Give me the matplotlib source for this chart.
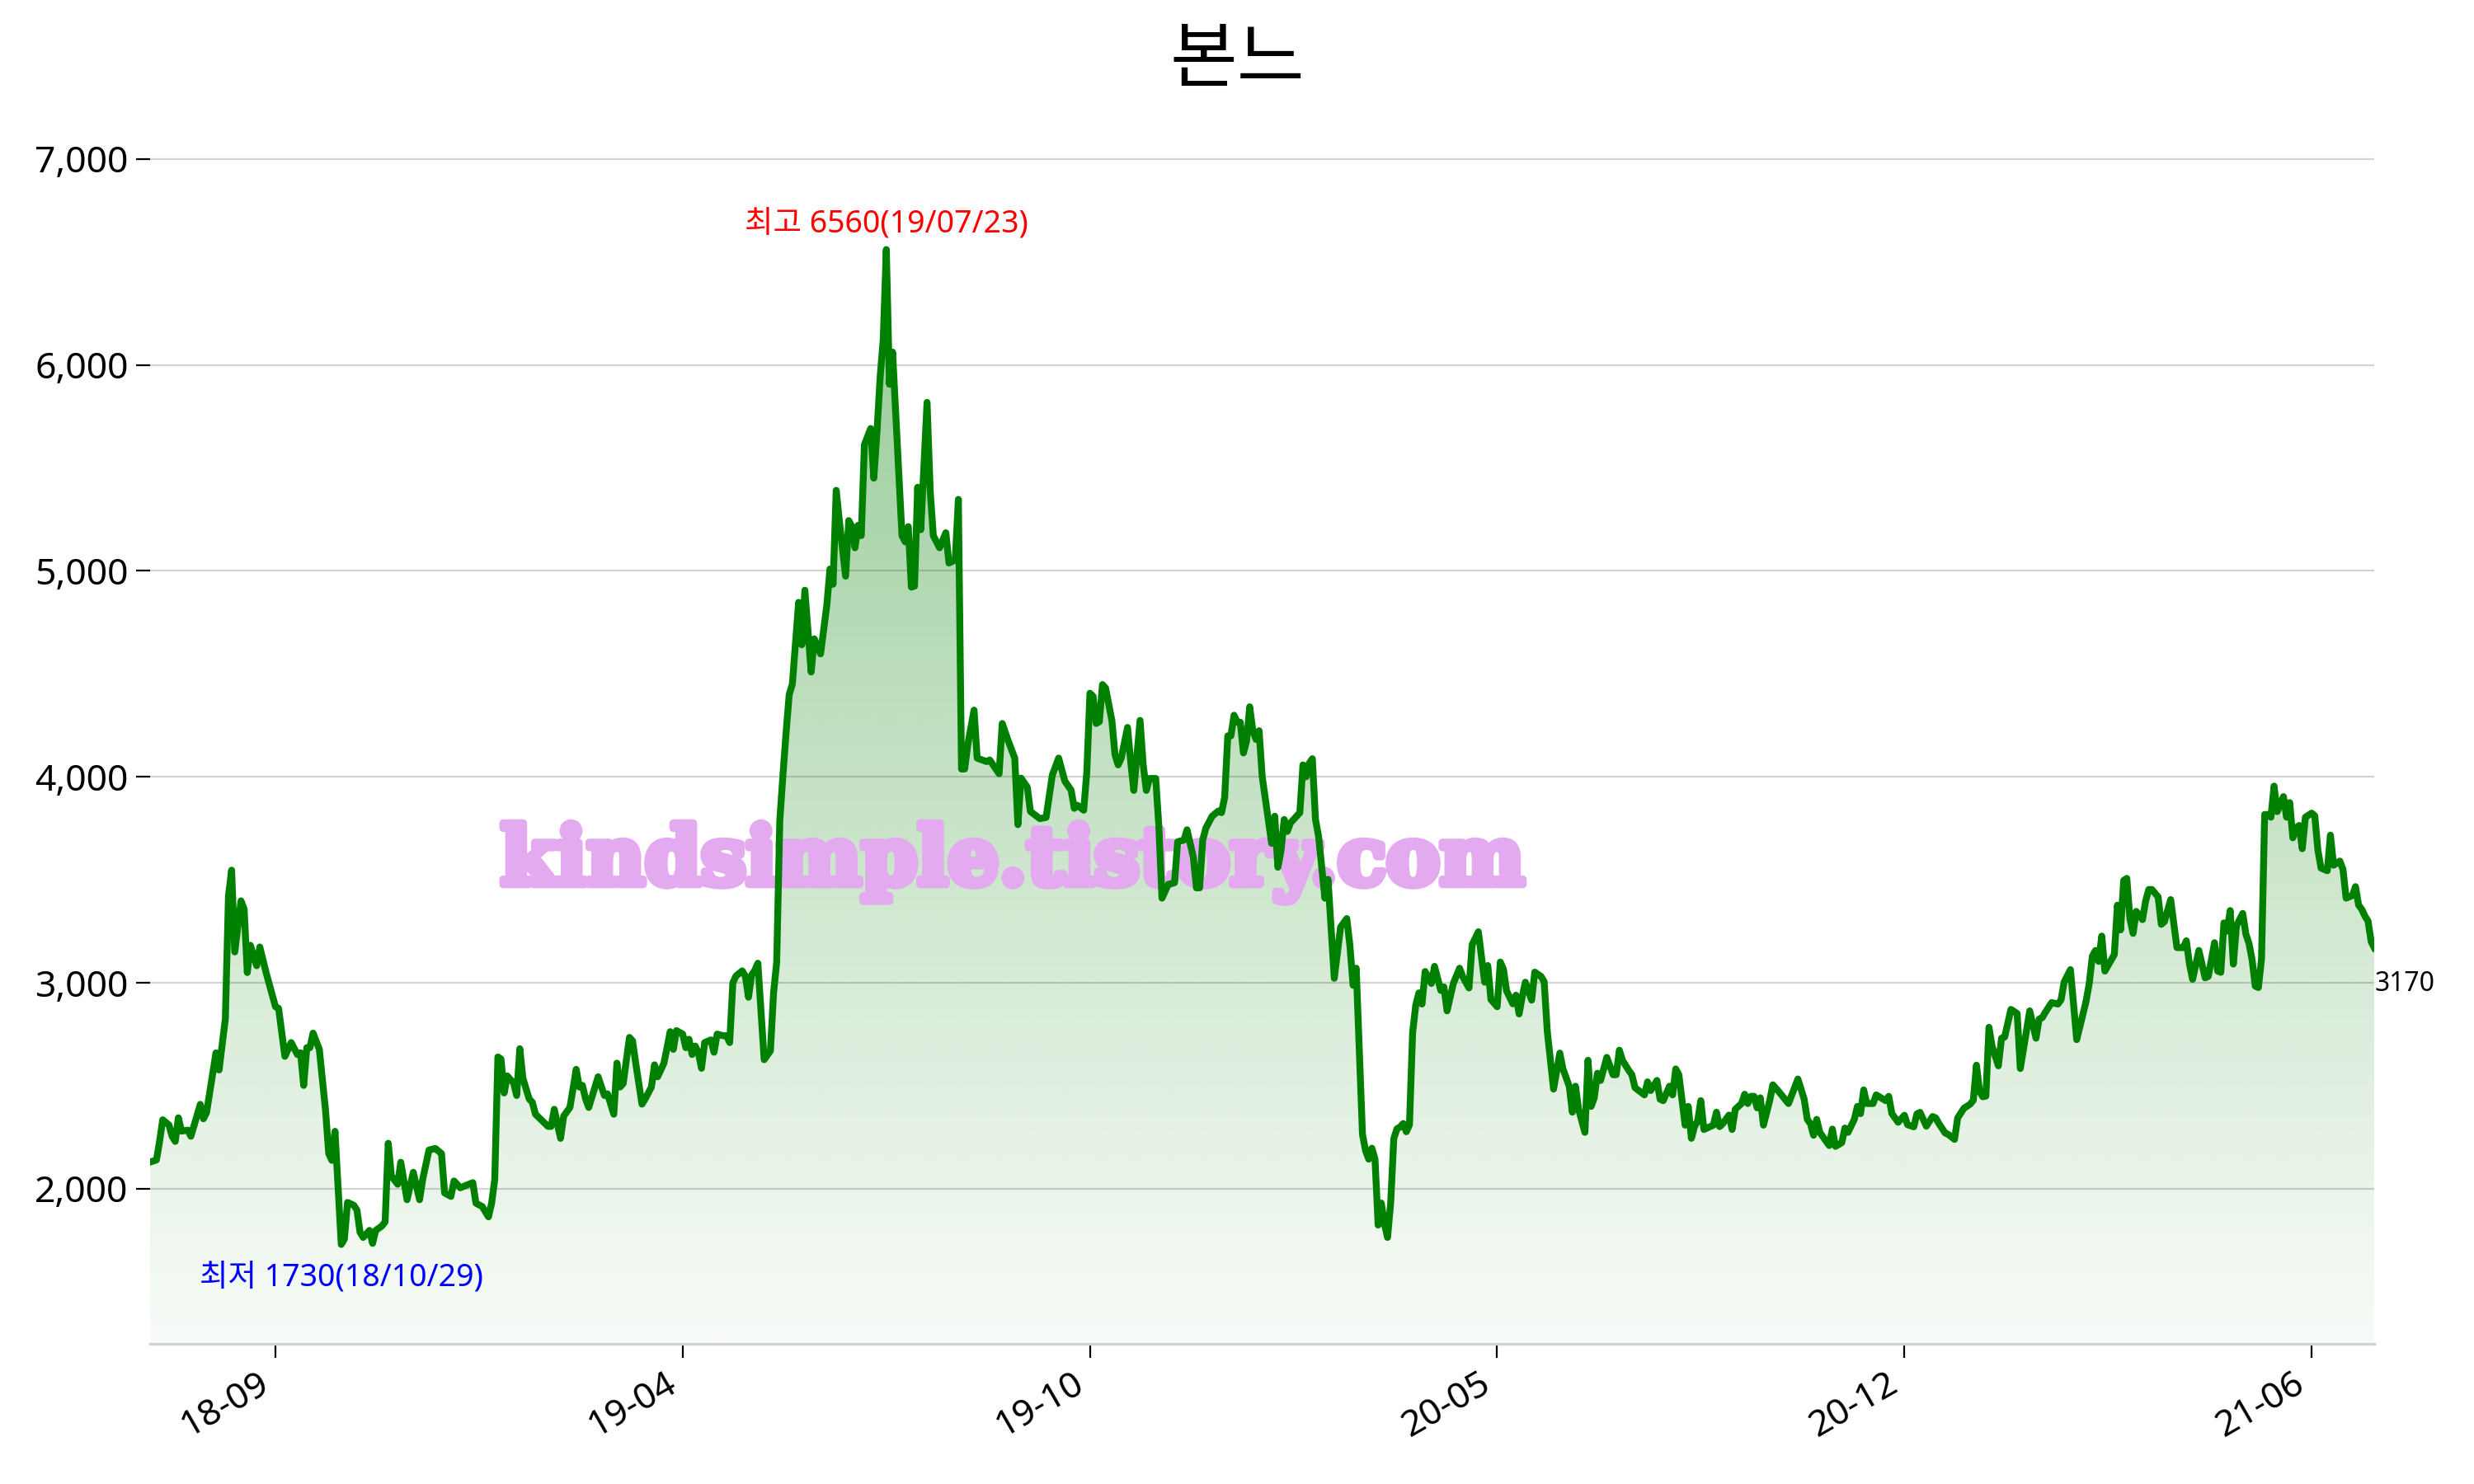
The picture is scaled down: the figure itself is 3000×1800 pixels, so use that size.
import matplotlib
matplotlib.use("Agg")
import matplotlib.pyplot as plt
import matplotlib.colors as mcolors
import matplotlib.patheffects as pe
import numpy as np

plt.rcParams["font.family"] = ["Noto Sans", "Noto Sans CJK KR", "DejaVu Sans"]

title = "본느"
watermark = "kindsimple.tistory.com"

# trading-day index and closing price
day = [
    0, 2, 3, 4, 6, 7, 8, 9, 10, 12, 13, 16, 17, 18, 21, 22, 24, 25, 26, 27,
    29, 30, 31, 32, 34, 35, 37, 40, 41, 43, 45, 47, 48, 49, 50, 51, 52, 54, 56, 57,
    58, 59, 61, 62, 63, 65, 66, 67, 68, 70, 71, 72, 74, 75, 76, 77, 79, 80, 82, 84,
    86, 87, 89, 91, 93, 94, 96, 97, 99, 103, 104, 106, 108, 109, 110, 111, 112, 113, 114, 115,
    116, 117, 118, 119, 120, 121, 122, 123, 127, 128, 129, 131, 132, 134, 136, 137, 138, 139, 140, 143,
    145, 146, 148, 149, 150, 151, 153, 154, 155, 157, 158, 160, 161, 162, 164, 165, 166, 167, 168, 170,
    171, 172, 173, 174, 175, 176, 177, 179, 180, 181, 183, 184, 185, 186, 187, 189, 190, 191, 192, 193,
    194, 196, 198, 199, 200, 201, 202, 203, 204, 205, 207, 208, 209, 211, 212, 214, 215, 216, 217, 218,
    219, 220, 222, 223, 224, 225, 226, 227, 228, 230, 231, 232, 233, 234, 235, 236, 237, 240, 241, 242,
    243, 244, 245, 246, 248, 249, 250, 252, 254, 255, 257, 258, 259, 260, 261, 263, 264, 267, 268, 271,
    272, 274, 276, 277, 278, 280, 281, 284, 286, 288, 290, 292, 294, 295, 296, 298, 299, 300, 301, 302,
    303, 304, 305, 307, 308, 309, 310, 312, 313, 314, 316, 317, 318, 319, 321, 322, 323, 325, 327, 328,
    330, 331, 333, 334, 335, 336, 337, 339, 341, 342, 343, 344, 345, 346, 347, 348, 349, 350, 351, 352,
    353, 354, 355, 358, 359, 360, 361, 362, 363, 364, 367, 368, 369, 370, 371, 372, 373, 375, 376, 378,
    380, 382, 383, 384, 385, 387, 388, 389, 390, 391, 392, 393, 394, 395, 396, 397, 398, 399, 400, 401,
    402, 403, 404, 405, 406, 407, 409, 410, 412, 413, 414, 416, 418, 419, 421, 422, 424, 426, 427, 428,
    430, 431, 432, 433, 435, 436, 437, 438, 439, 441, 442, 444, 445, 446, 448, 450, 451, 453, 454, 455,
    456, 458, 459, 460, 461, 462, 463, 464, 465, 467, 468, 469, 470, 472, 473, 474, 477, 478, 479, 481,
    482, 483, 485, 486, 487, 488, 490, 491, 492, 493, 494, 495, 496, 498, 499, 500, 501, 502, 504, 505,
    506, 508, 509, 510, 511, 512, 513, 514, 515, 517, 518, 520, 523, 526, 527, 528, 529, 530, 531, 532,
    533, 535, 536, 537, 538, 540, 541, 542, 544, 545, 546, 547, 548, 550, 551, 554, 555, 556, 558, 560,
    561, 563, 564, 565, 567, 569, 570, 571, 573, 574, 576, 577, 579, 581, 582, 583, 584, 585, 586, 587,
    588, 590, 591, 592, 594, 596, 597, 600, 602, 603, 604, 605, 607, 609, 610, 611, 613, 614, 615, 618,
    619, 620, 621, 622, 623, 624, 625, 627, 628, 629, 630, 631, 632, 633, 634, 636, 637, 638, 639, 641,
    642, 643, 645, 647, 649, 650, 651, 652, 654, 656, 657, 659, 660, 661, 662, 663, 664, 665, 666, 668,
    669, 670, 671, 672, 673, 674, 675, 676, 677, 678, 679, 681, 682, 683, 684, 685, 686, 687, 688, 690,
    691, 692, 693, 695, 696, 697, 699, 700, 701, 703, 704, 705, 706, 707, 708, 709, 710,
]
close = [
    2130, 2140, 2230, 2335, 2310, 2255, 2230, 2345, 2280, 2285, 2255, 2410, 2340, 2370, 2660, 2577, 2826, 3423, 3547, 3150,
    3398, 3357, 3050, 3182, 3083, 3174, 3050, 2884, 2876, 2643, 2710, 2652, 2660, 2502, 2685, 2685, 2756, 2677, 2378, 2171,
    2138, 2279, 1730, 1756, 1934, 1920, 1897, 1789, 1764, 1798, 1735, 1798, 1820, 1840, 2221, 2063, 2022, 2129, 1947, 2080,
    1947, 2046, 2188, 2196, 2171, 1980, 1963, 2038, 2005, 2030, 1930, 1914, 1864, 1930, 2046, 2640, 2630, 2465, 2548, 2530,
    2515, 2453, 2680, 2536, 2486, 2436, 2420, 2362, 2303, 2303, 2386, 2245, 2353, 2395, 2580, 2494, 2502, 2436, 2395, 2544,
    2453, 2461, 2362, 2610, 2494, 2511, 2735, 2718, 2610, 2411, 2436, 2494, 2602, 2544, 2610, 2685, 2763, 2677, 2768, 2751,
    2685, 2726, 2652, 2693, 2660, 2585, 2710, 2723, 2663, 2751, 2743, 2743, 2710, 3000, 3033, 3058, 3033, 2930, 3038, 3060,
    3095, 2627, 2670, 2950, 3100, 3790, 4009, 4215, 4400, 4450, 4847, 4641, 4906, 4509, 4670, 4597, 4715, 4832, 5009, 4935,
    5391, 5244, 4974, 5244, 5215, 5112, 5221, 5171, 5612, 5691, 5450, 5671, 5935, 6121, 6560, 5906, 6062, 5171, 5141, 5215,
    4921, 4926, 5406, 5200, 5818, 5391, 5171, 5112, 5185, 5038, 5053, 5347, 4038, 4038, 4156, 4324, 4091, 4074, 4082, 4015,
    4259, 4171, 4091, 3768, 3994, 3950, 3832, 3797, 3803, 4009, 4091, 3979, 3935, 3847, 3862, 3838, 4024, 4406, 4391, 4259,
    4268, 4448, 4431, 4274, 4108, 4058, 4091, 4240, 4075, 3934, 4274, 4058, 3934, 3992, 3992, 3760, 3411, 3478, 3486, 3685,
    3693, 3743, 3610, 3461, 3461, 3693, 3751, 3809, 3834, 3826, 3900, 4199, 4199, 4299, 4265, 4265, 4116, 4174, 4340, 4224,
    4182, 4224, 4000, 3677, 3809, 3561, 3643, 3793, 3735, 3776, 3826, 4058, 4000, 4066, 4088, 3793, 3710, 3411, 3502, 3022,
    3270, 3312, 3179, 2988, 3071, 2264, 2184, 2144, 2197, 2144, 1824, 1931, 1831, 1764, 1931, 2244, 2291, 2300, 2317, 2277,
    2311, 2757, 2891, 2951, 2897, 3055, 2997, 3080, 2963, 2980, 2864, 2997, 3071, 3030, 2975, 3185, 3248, 3003, 3084, 2919,
    2884, 3101, 3066, 2961, 2898, 2940, 2849, 2933, 3003, 2916, 3052, 3031, 3006, 2764, 2484, 2659, 2582, 2498, 2372, 2498,
    2386, 2274, 2624, 2400, 2442, 2561, 2526, 2582, 2638, 2554, 2554, 2673, 2624, 2575, 2554, 2491, 2456, 2519, 2477, 2526,
    2435, 2428, 2498, 2456, 2582, 2554, 2309, 2400, 2245, 2302, 2330, 2428, 2288, 2302, 2309, 2372, 2302, 2316, 2358, 2288,
    2386, 2414, 2459, 2414, 2449, 2449, 2393, 2442, 2309, 2428, 2505, 2470, 2414, 2533, 2484, 2435, 2337, 2316, 2260, 2337,
    2274, 2231, 2210, 2290, 2206, 2224, 2295, 2274, 2337, 2400, 2365, 2480, 2414, 2414, 2456, 2428, 2449, 2365, 2323, 2357,
    2311, 2301, 2364, 2371, 2304, 2351, 2344, 2317, 2271, 2264, 2240, 2344, 2391, 2411, 2430, 2600, 2474, 2447, 2450, 2784,
    2691, 2597, 2731, 2737, 2871, 2851, 2584, 2864, 2731, 2824, 2831, 2857, 2904, 2897, 2917, 3004, 3064, 2897, 2724, 2911,
    2997, 3130, 3157, 3104, 3227, 3057, 3084, 3137, 3377, 3257, 3497, 3507, 3311, 3240, 3347, 3307, 3397, 3453, 3453, 3417,
    3284, 3297, 3404, 3171, 3171, 3204, 3091, 3017, 3157, 3024, 3031, 3195, 3057, 3051, 3291, 3251, 3351, 3091, 3277, 3337,
    3237, 3191, 3111, 2984, 2977, 3117, 3817, 3817, 3804, 3955, 3831, 3904, 3804, 3875, 3704, 3751, 3764, 3651, 3804, 3824,
    3811, 3644, 3557, 3544, 3717, 3571, 3591, 3551, 3411, 3424, 3467, 3377, 3357, 3324, 3300, 3200, 3170,
]

high_date = "19/07/23"
low_date = "18/10/29"

# x tick labels, one every 130 trading days starting at day 40
tick_labels = ["18-09", "19-04", "19-10", "20-05", "20-12", "21-06"]
tick_start, tick_step = 40, 130

day = np.array(day)
close = np.array(close)

hi, lo = close.max(), close.min()
rng = hi - lo
ybot, ytop = lo - 0.1 * rng, hi + 0.1 * rng

fig = plt.figure(figsize=(15, 9), dpi=200)
ax = fig.add_axes([0.0607, 0.0944, 0.899, 0.8045])

# gradient fill under the line
poly = ax.fill_between(day, close, ybot, color="none", lw=0)
rgba = np.zeros((256, 1, 4))
rgba[..., :3] = mcolors.to_rgb("green")
rgba[..., 3] = np.linspace(0.03, 0.42, 256)[:, None]
im = ax.imshow(rgba, extent=[day[0], day[-1], ybot, hi], origin="lower",
               aspect="auto", zorder=1, interpolation="bilinear")
im.set_clip_path(poly.get_paths()[0], transform=ax.transData)

wm_color = "#E3AAEF"
ax.text(0.388, 0.403, watermark, transform=ax.transAxes, ha="center", va="center",
        fontsize=35, fontweight="bold", family="DejaVu Serif", color=wm_color, zorder=2,
        path_effects=[pe.withStroke(linewidth=3.5, foreground=wm_color)])

ax.plot(day, close, color="green", lw=3, zorder=3)

ax.set_xlim(day[0], day[-1])
ax.set_ylim(ybot, ytop)

ax.set_yticks(np.arange(2000, 7001, 1000))
ax.yaxis.set_major_formatter(matplotlib.ticker.StrMethodFormatter("{x:,.0f}"))
ax.set_xticks(tick_start + tick_step * np.arange(len(tick_labels)))
ax.set_xticklabels(tick_labels, rotation=30, ha="right")
ax.tick_params(axis="both", labelsize=16, length=6, width=0.8)
ax.grid(axis="y", color="#d3d3d3", lw=0.8)
ax.set_axisbelow(True)

for s in ["left", "right", "top"]:
    ax.spines[s].set_visible(False)
ax.spines["bottom"].set_color("#d3d3d3")
ax.spines["bottom"].set_linewidth(1.2)

i_hi, i_lo = close.argmax(), close.argmin()
ax.annotate(f"최고 {hi}({high_date})", xy=(day[i_hi], hi), xytext=(0, 4),
            textcoords="offset points", ha="center", va="bottom", color="red", fontsize=13.5)
ax.annotate(f"최저 {lo}({low_date})", xy=(day[i_lo], lo), xytext=(0, -8),
            textcoords="offset points", ha="center", va="top", color="blue", fontsize=13.5)
ax.annotate(f"{close[-1]}", xy=(day[-1], close[-1]), xytext=(0, -10),
            textcoords="offset points", ha="left", va="top", fontsize=11.5)

fig.text(0.5, 0.958, title, ha="center", va="center", fontsize=32)

fig.savefig("out.png", dpi=200)
